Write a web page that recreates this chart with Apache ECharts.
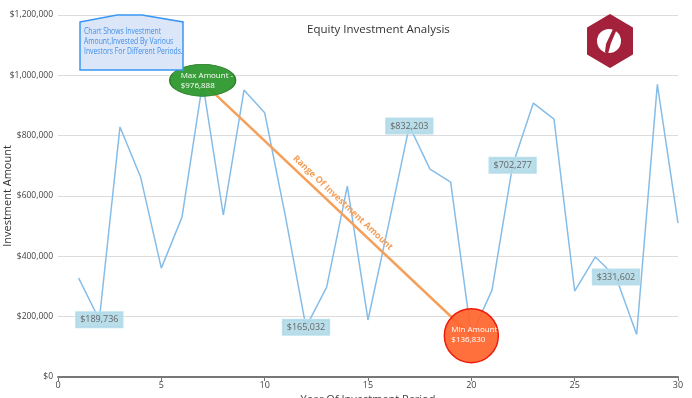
<!DOCTYPE html>
<html>
<head>
<meta charset="utf-8">
<script src="https://cdn.jsdelivr.net/npm/echarts@6/dist/echarts.min.js"></script>
<style>
  html, body { margin: 0; padding: 0; background: #fff; }
  #chart { width: 692px; height: 398px; }
</style>
</head>
<body>
<div id="chart"></div>
<script>
  // periods on the x axis
  const periods = [1, 2, 3, 4, 5, 6, 7, 8, 9, 10, 11, 12, 13, 14, 15,
    16, 17, 18, 19, 20, 21, 22, 23, 24, 25, 26, 27, 28, 29, 30]
  // investment amount per period
  const amounts = [328000, 189736, 829000, 662000, 361000, 530000, 976888, 537000, 951000, 876000,
    534000, 165032, 298000, 633000, 189000, 507000, 832203, 689000, 646000, 136830,
    288000, 702277, 908000, 855000, 285000, 398000, 331602, 141000, 970000, 510000]
  // periods that get a boxed value label
  const labeledPeriods = [2, 12, 17, 22, 27]
  const yTicks = [0, 200000, 400000, 600000, 800000, 1000000, 1200000]
  const calloutLines = ['Chart Shows Investment', 'Amount,Invested By Various', 'Investors For Different Periods.']

  const money = v => '$' + v.toLocaleString('en-US')
  const font = '"Open Sans", "Noto Sans", sans-serif'

  let maxIdx = 0, minIdx = 0
  amounts.forEach((v, i) => {
    if (v > amounts[maxIdx]) maxIdx = i
    if (v < amounts[minIdx]) minIdx = i
  })

  const boxPoints = labeledPeriods.map(p => {
    const v = amounts[periods.indexOf(p)]
    return {
      coord: [p, v],
      symbolSize: 0,
      label: {
        show: true,
        position: 'inside',
        formatter: money(v),
        color: '#666',
        fontSize: 9,
        fontFamily: font,
        backgroundColor: 'rgba(173,216,230,0.85)',
        borderColor: 'rgba(190,225,238,1)',
        borderWidth: 1,
        padding: [3, 4]
      }
    }
  })

  const chart = echarts.init(document.getElementById('chart'))
  chart.setOption({
    animation: false,
    title: {
      text: 'Equity Investment Analysis',
      left: 302,
      top: 19,
      textStyle: { fontSize: 11.5, fontWeight: 'normal', color: '#333', fontFamily: font }
    },
    grid: { left: 58, right: 14, top: 15, bottom: 21, containLabel: false, outerBoundsMode: 'none' },
    xAxis: {
      type: 'value',
      min: 0,
      max: 30,
      interval: 5,
      name: 'Year Of Investment Period',
      nameLocation: 'middle',
      nameGap: 17,
      nameMoveOverlap: false,
      nameTextStyle: { fontSize: 11, color: '#444', fontFamily: font },
      axisLine: { lineStyle: { color: '#777', width: 2 } },
      axisTick: { show: true, length: 4, lineStyle: { color: '#777' } },
      axisLabel: { fontSize: 9, color: '#444', fontFamily: font, margin: 4 },
      splitLine: { show: false }
    },
    yAxis: {
      type: 'value',
      min: yTicks[0],
      max: yTicks[yTicks.length - 1],
      interval: yTicks[1] - yTicks[0],
      name: 'Investment Amount',
      nameLocation: 'middle',
      nameGap: 45,
      nameMoveOverlap: false,
      nameTextStyle: { fontSize: 11, color: '#333', fontFamily: font },
      axisLine: { show: false },
      axisTick: { show: false },
      axisLabel: { fontSize: 8.5, color: '#444', fontFamily: font, margin: 5, formatter: money },
      splitLine: { lineStyle: { color: '#dcdcdc', width: 1 } }
    },
    series: [
      {
        type: 'line',
        z: 2,
        data: periods.map((p, i) => [p, amounts[i]]),
        showSymbol: false,
        lineStyle: { color: '#86bde8', width: 1.5 },
        markLine: {
          silent: true,
          symbol: 'none',
          lineStyle: { color: '#f5a05a', width: 2.5, type: 'solid' },
          label: {
            show: true,
            position: 'middle',
            formatter: 'Range Of Investment Amount',
            color: '#f5a05a',
            fontSize: 9,
            fontWeight: 'bold',
            fontFamily: font,
            distance: 4
          },
          data: [[
            { coord: [periods[maxIdx], amounts[maxIdx]] },
            { coord: [periods[minIdx], amounts[minIdx]] }
          ]]
        }
      },
      {
        type: 'line',
        z: 5,
        data: periods.map((p, i) => [p, amounts[i]]),
        showSymbol: false,
        lineStyle: { width: 0, opacity: 0 },
        markPoint: {
          silent: true,
          data: boxPoints.concat([
            {
              coord: [periods[maxIdx], amounts[maxIdx]],
              symbol: 'circle',
              symbolSize: [66, 32],
              symbolOffset: [0, -2],
              itemStyle: { color: 'rgba(40,150,40,0.92)', borderColor: '#2a7d2a', borderWidth: 1 },
              label: {
                show: true, position: 'inside', align: 'left', offset: [-22, 0],
                formatter: 'Max Amount -\n' + money(amounts[maxIdx]),
                color: '#fff', fontSize: 8, lineHeight: 10, fontFamily: font
              }
            },
            {
              coord: [periods[minIdx], amounts[minIdx]],
              symbol: 'circle',
              symbolSize: 54,
              itemStyle: { color: 'rgba(255,100,45,0.92)', borderColor: '#f01a0a', borderWidth: 1.5 },
              label: {
                show: true, position: 'inside', align: 'left', offset: [-20, -1],
                formatter: 'Min Amount -\n' + money(amounts[minIdx]),
                color: '#fff', fontSize: 8, lineHeight: 10, fontFamily: font
              }
            }
          ])
        }
      }
    ],
    graphic: [
      // note callout
      {
        type: 'polygon',
        z: 10,
        shape: { points: [[80, 22], [117, 15], [142, 15], [183, 22], [183, 70], [80, 70]] },
        style: { fill: '#dbe6f8', stroke: '#3a96f5', lineWidth: 1.5 }
      },
      {
        type: 'text',
        z: 11,
        x: 84,
        y: 27,
        scaleX: 0.8,
        style: {
          text: calloutLines.join('\n'),
          fill: '#3f8fe8',
          font: '8.5px ' + font,
          lineHeight: 10
        }
      },
      // logo
      {
        type: 'polygon',
        z: 10,
        shape: { points: [[610, 15], [632, 28], [632, 54], [610, 67], [588, 54], [588, 28]] },
        style: { fill: '#a3213a', stroke: '#a3213a', lineWidth: 2, lineJoin: 'round' }
      },
      {
        type: 'circle',
        z: 11,
        shape: { cx: 609, cy: 41, r: 12 },
        style: { fill: '#fff' }
      },
      {
        type: 'polygon',
        z: 12,
        shape: { points: [[613, 29], [617, 29], [611, 43], [608, 54], [605, 52], [606, 44]] },
        style: { fill: '#a3213a' }
      }
    ]
  })
</script>
</body>
</html>
